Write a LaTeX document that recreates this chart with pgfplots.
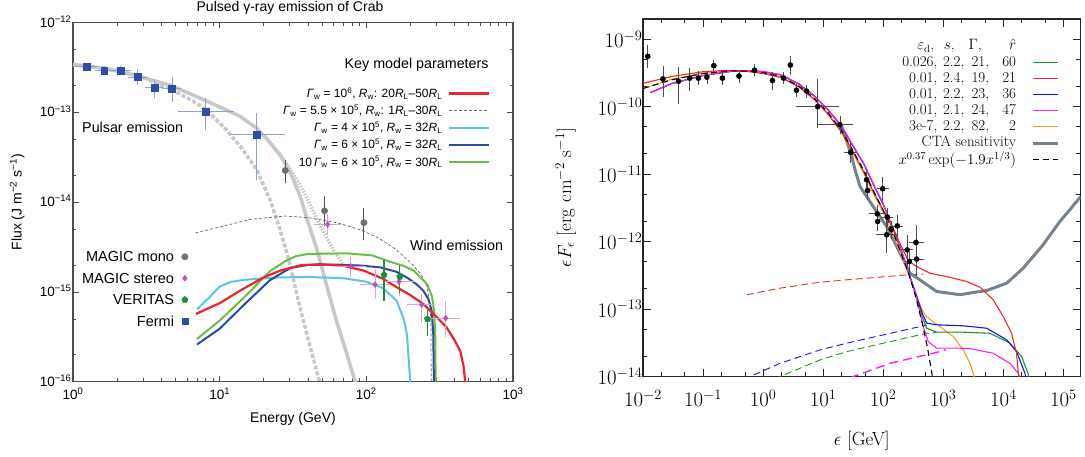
\RequirePackage{fix-cm}
\documentclass[border=0pt]{standalone}
\usepackage{amsmath}
\usepackage{fontspec}
\usepackage{pgfplots}
\pgfplotsset{compat=1.18}
\newfontfamily\hel{Liberation Sans}
\definecolor{lred}{HTML}{E8262B}
\definecolor{lblue}{HTML}{2B4BA0}
\definecolor{lgreen}{HTML}{6BBE45}
\definecolor{lcyan}{HTML}{5CC6E0}
\definecolor{pgray}{HTML}{C8C8C8}
\definecolor{fermib}{HTML}{2E4DA7}
\definecolor{fermie}{HTML}{8EA1D5}
\definecolor{monog}{HTML}{707070}
\definecolor{monoe}{HTML}{555555}
\definecolor{stereo}{HTML}{C44DB0}
\definecolor{stereoe}{HTML}{DDA2D6}
\definecolor{veritas}{HTML}{1E8C3A}
\definecolor{rgreen}{HTML}{1A961A}
\definecolor{rred}{HTML}{F02828}
\definecolor{rblue}{HTML}{1414F0}
\definecolor{rmag}{HTML}{FF1EF0}
\definecolor{rorange}{HTML}{F5A023}
\definecolor{cta}{HTML}{76838F}
\newcommand{\lr}[4]{\makebox[2.6em][r]{#1}\makebox[1.8em][r]{#2}\makebox[1.65em][r]{#3}\makebox[1.8em][r]{#4}}
\begin{document}
\begin{tikzpicture}
\useasboundingbox (0pt,0pt) rectangle (1085pt,457pt);
% ---------------- LEFT PANEL: curves -----------------
\begin{axis}[
  at={(73pt,75.2pt)}, anchor=south west, scale only axis,
  width=440pt, height=359.4pt,
  xmode=log, ymode=log, xmin=1, xmax=1000, ymin=1e-16, ymax=1e-12,
  xtick={1,10,100,1000},
  xticklabels={10\textsuperscript{0},10\textsuperscript{1},10\textsuperscript{2},10\textsuperscript{3}},
  ytick={1e-16,1e-15,1e-14,1e-13,1e-12},
  yticklabels={10\textsuperscript{−16},10\textsuperscript{−15},10\textsuperscript{−14},10\textsuperscript{−13},10\textsuperscript{−12}},
  minor xtick={2,3,4,5,6,7,8,9,20,30,40,50,60,70,80,90,200,300,400,500,600,700,800,900},
  minor ytick={2e-16,5e-16,2e-15,5e-15,2e-14,5e-14,2e-13,5e-13},
  tick align=inside, major tick length=6pt, minor tick length=3.5pt,
  tick style={black!70, line width=0.8pt},
  axis line style={black!70, line width=1.1pt},
  tick label style={font=\hel\fontsize{13.5}{16}\selectfont},
  yticklabel style={xshift=2pt, yshift=1pt},
  xticklabel style={yshift=-2.5pt},
  xlabel={Energy (GeV)},
  ylabel={Flux (J m\textsuperscript{−2} s\textsuperscript{−1})},
  label style={font=\hel\fontsize{14}{16}\selectfont},
  xlabel style={at={(axis description cs:0.5,-0.1035)}, anchor=center},
  ylabel style={at={(axis description cs:-0.1268,0.5)}, anchor=center},
  legend style={at={(axis description cs:0.9493,0.8267)}, anchor=north east, draw=none, fill=none,
    inner sep=0pt, column sep=6pt, row sep=0pt, font=\hel\fontsize{12}{14}\selectfont,
    nodes={inner sep=0pt, text height=12.5pt, text depth=4.7pt}},
  legend cell align=right, legend plot pos=right,
  legend image code/.code={\draw[#1] (0pt,0pt) -- (40pt,0pt);},
]
% pulsar model curves
\addplot[forget plot, pgray, line width=3.5pt, dash pattern=on 4pt off 2pt] coordinates {
(1,3.4e-13) (2,2.95e-13) (3,2.45e-13) (4.5,1.85e-13) (6.5,1.35e-13) (8.15,1.06e-13) (11,6.5e-14)
(13.8,4.2e-14) (17.9,2.3e-14) (22.1,1.05e-14) (24.6,6.3e-15) (29,2.6e-15) (34.8,7.4e-16)
(41,2.6e-16) (48,1e-16) (50,8e-17)};
\addplot[forget plot, pgray, line width=3.5pt, dash pattern=on 1.5pt off 1.5pt] coordinates {
(20,5.6e-14) (25.9,3.4e-14) (30,2.4e-14) (35,1.6e-14) (40,1.05e-14) (46,6.5e-15) (53,4.2e-15)
(60,2.9e-15) (68,2.1e-15) (72,1.9e-15)};
\addplot[forget plot, pgray, line width=3.5pt] coordinates {
(1,3.4e-13) (1.58,3.12e-13) (2.72,2.55e-13) (4.68,1.98e-13) (8,1.35e-13) (13.8,9.0e-14)
(18,6.6e-14) (22,4.6e-14) (25.9,3.3e-14) (30.5,2.1e-14) (35.5,1.15e-14) (39.4,6.5e-15)
(46,3.0e-15) (53.9,1.15e-15) (62,5.0e-16) (72,2.3e-16) (84,1e-16) (90,7e-17)};
% wind model curves
\addplot[forget plot, black!60, line width=0.7pt, dash pattern=on 3pt off 2pt] coordinates {
(6.85,4.56e-15) (10.6,5.4e-15) (16.3,6.45e-15) (28,7.0e-15) (40.9,6.7e-15) (63,5.9e-15)
(92,4.9e-15) (121,4.0e-15) (158,3.0e-15) (208,2.0e-15) (240,1.5e-15) (259,1.15e-15)
(272,7e-16) (276,4e-16) (277,1e-16) (277.5,8e-17)};
\addplot[forget plot, lcyan, line width=2pt] coordinates {
(7.0,6.4e-16) (8.5,8.7e-16) (10,1.15e-15) (12,1.3e-15) (15,1.37e-15) (25,1.45e-15) (40,1.47e-15)
(70,1.42e-15) (100,1.3e-15) (130,1.1e-15) (161,8e-16) (180,5e-16) (189,3.4e-16) (196,1.5e-16)
(199,1e-16) (200,8e-17)};
\addplot[forget plot, lgreen, line width=2pt] coordinates {
(7.0,3.0e-16) (10,4.8e-16) (15,9e-16) (22,1.7e-15) (28,2.2e-15) (33,2.5e-15) (40,2.65e-15)
(74,2.69e-15) (110,2.55e-15) (145,2.17e-15) (180,1.95e-15) (210,1.73e-15) (259,1.23e-15)
(280,9e-16) (290,6e-16) (295,3.4e-16) (297,1e-16) (298,8e-17)};
\addplot[forget plot, lblue, line width=2pt] coordinates {
(7.0,2.6e-16) (10,3.9e-16) (15.3,7.7e-16) (22,1.35e-15) (30.3,1.85e-15) (40,2.0e-15) (60,2.02e-15)
(90,1.97e-15) (124,1.88e-15) (160,1.68e-15) (189,1.45e-15) (220,1.22e-15) (245,1.03e-15)
(265,8.3e-16) (279,6.2e-16) (286,3.4e-16) (289,1e-16) (290,8e-17)};
\addplot[forget plot, lred, line width=2.2pt] coordinates {
(6.9,5.7e-16) (10,7.5e-16) (14,1.05e-15) (19.9,1.45e-15) (25.9,1.73e-15) (35.5,1.98e-15)
(48.5,2.04e-15) (70,1.95e-15) (95.7,1.73e-15) (130,1.4e-15) (161,1.13e-15) (200,9.2e-16)
(245,7.35e-16) (300,5.3e-16) (352,4.04e-16) (400,2.9e-16) (437,2.2e-16) (460,1.5e-16)
(472,1e-16) (478,8e-17)};
\addlegendimage{lred, line width=2.2pt}
\addlegendentry{\textit{Γ}\textsubscript{w} = 10\textsuperscript{6}, \textit{R}\textsubscript{w}: 20\textit{R}\textsubscript{L}–50\textit{R}\textsubscript{L}}
\addlegendimage{black!60, line width=0.7pt, dash pattern=on 3pt off 2pt}
\addlegendentry{\textit{Γ}\textsubscript{w} = 5.5 × 10\textsuperscript{5}, \textit{R}\textsubscript{w}: 1\textit{R}\textsubscript{L}–30\textit{R}\textsubscript{L}}
\addlegendimage{lcyan, line width=2pt}
\addlegendentry{\textit{Γ}\textsubscript{w} = 4 × 10\textsuperscript{5}, \textit{R}\textsubscript{w} = 32\textit{R}\textsubscript{L}}
\addlegendimage{lblue, line width=2pt}
\addlegendentry{\textit{Γ}\textsubscript{w} = 6 × 10\textsuperscript{5}, \textit{R}\textsubscript{w} = 32\textit{R}\textsubscript{L}}
\addlegendimage{lgreen, line width=2pt}
\addlegendentry{10\,\textit{Γ}\textsubscript{w} = 6 × 10\textsuperscript{5}, \textit{R}\textsubscript{w} = 30\textit{R}\textsubscript{L}}
\node[font=\hel\fontsize{14.3}{16}\selectfont, anchor=center] at (axis description cs:0.781,0.883) {Key model parameters};
\node[font=\hel\fontsize{14.3}{16}\selectfont, anchor=west, inner sep=0pt] at (axis description cs:0.0205,0.7078) {Pulsar emission};
\node[font=\hel\fontsize{14.3}{16}\selectfont, anchor=west, inner sep=0pt] at (axis description cs:0.7655,0.3784) {Wind emission};
\end{axis}
\node[font=\hel\fontsize{14}{16}\selectfont, anchor=center, inner sep=0pt] at (290pt,449pt) {Pulsed γ-ray emission of Crab};
% ---------------- LEFT PANEL: data -----------------
\begin{axis}[
  at={(73pt,75.2pt)}, anchor=south west, scale only axis,
  width=440pt, height=359.4pt, hide axis,
  xmode=log, ymode=log, xmin=1, xmax=1000, ymin=1e-16, ymax=1e-12,
  legend style={at={(axis description cs:0.262,0.3784)}, anchor=north east, draw=none, fill=none,
    inner sep=0pt, column sep=7.7pt, row sep=0pt, font=\hel\fontsize{14.5}{16}\selectfont,
    nodes={inner sep=0pt, text height=15.5pt, text depth=6pt}},
  legend cell align=right, legend plot pos=right,
  legend image code/.code={\draw[#1] plot coordinates {(0pt,0pt)};},
]
\addlegendimage{only marks, mark=*, mark size=3.2pt, monog}
\addlegendentry{MAGIC mono}
\addlegendimage{only marks, mark=diamond*, mark size=3pt, stereo}
\addlegendentry{MAGIC stereo}
\addlegendimage{only marks, mark=pentagon*, mark size=3.3pt, veritas}
\addlegendentry{VERITAS}
\addlegendimage{only marks, mark=square*, mark size=3.1pt, fermib}
\addlegendentry{Fermi}
% Fermi
\addplot[forget plot, only marks, mark=square*, mark size=3.3pt, fermib,
  error bars/.cd, x dir=both, x explicit, y dir=both, y explicit,
  error bar style={fermie, line width=0.8pt}, error mark options={fermie, mark size=2.5pt, line width=0.8pt}]
coordinates {
(1.24,3.2e-13) += (0.18,0.15e-13) -= (0.16,0.15e-13)
(1.63,2.9e-13) += (0.18,0.15e-13) -= (0.17,0.15e-13)
(2.11,2.9e-13) += (0.27,0.15e-13) -= (0.2,0.15e-13)
(2.77,2.47e-13) += (0.35,0.34e-13) -= (0.29,0.32e-13)
(3.61,1.89e-13) += (0.41,0.31e-13) -= (0.38,0.36e-13)
(4.73,1.83e-13) += (0.54,0.46e-13) -= (0.53,0.43e-13)
(8.05,1.02e-13) += (3.91,0.34e-13) -= (2.63,0.336e-13)
(17.9,5.66e-14) += (8.9,3.64e-14) -= (5.7,3.8e-14)
};
% MAGIC mono
\addplot[forget plot, only marks, mark=*, mark size=3.2pt, monog,
  error bars/.cd, y dir=both, y explicit,
  error bar style={monoe, line width=1pt}, error mark options={monoe, mark size=2.8pt, line width=1pt}]
coordinates {
(28.0,2.25e-14) += (0,0.47e-14) -= (0,0.51e-14)
(51.9,8.0e-15) += (0,3.0e-15) -= (0,2.2e-15)
(96.3,5.9e-15) += (0,2.2e-15) -= (0,1.8e-15)
};
% MAGIC stereo
\addplot[forget plot, only marks, mark=diamond*, mark size=3pt, stereo,
  error bars/.cd, x dir=both, x explicit, y dir=both, y explicit,
  error bar style={stereoe, line width=0.8pt}, error mark options={stereoe, mark size=2.5pt, line width=0.8pt}]
coordinates {
(54.5,5.66e-15) += (10.3,1.24e-15) -= (8.9,1.06e-15)
(78.4,1.92e-15) += (17.9,0.36e-15) -= (13.6,0.37e-15)
(114.5,1.21e-15) += (23.5,0.47e-15) -= (19.8,0.33e-15)
(167,1.30e-15) += (35,0.31e-15) -= (29,0.34e-15)
(238,7.25e-16) += (46,1.55e-16) -= (41,2.47e-16)
(348,5.12e-16) += (68,2.38e-16) -= (60,1.73e-16)
};
% VERITAS
\addplot[forget plot, only marks, mark=pentagon*, mark size=3.3pt, veritas,
  error bars/.cd, y dir=both, y explicit,
  error bar style={veritas, line width=1.1pt}, error mark options={veritas, mark size=2.8pt, line width=1.1pt}]
coordinates {
(132,1.55e-15) += (0,0.58e-15) -= (0,0.687e-15)
(169,1.48e-15) += (0,0.36e-15) -= (0,0.44e-15)
(261,4.99e-16) += (0,1.31e-16) -= (0,1.47e-16)
};
\end{axis}
% ---------------- RIGHT PANEL -----------------
\begin{axis}[
  at={(643pt,80.5pt)}, anchor=south west, scale only axis,
  width=437.5pt, height=357.6pt,
  xmode=log, ymode=log, xmin=1e-2, xmax=1.93e5, ymin=1e-14, ymax=2e-9,
  xtick={1e-2,1e-1,1,10,100,1000,1e4,1e5},
  ytick={1e-14,1e-13,1e-12,1e-11,1e-10,1e-9},
  minor xtick={0.02,0.05,0.2,0.5,2,5,20,50,200,500,2000,5000,2e4,5e4},
  minor ytick={2e-14,5e-14,2e-13,5e-13,2e-12,5e-12,2e-11,5e-11,2e-10,5e-10},
  tick align=inside, major tick length=8pt, minor tick length=4.5pt,
  tick style={black!85, line width=1pt},
  axis line style={black!85, line width=1.5pt},
  tick label style={font=\fontsize{20.74}{24}\selectfont},
  xticklabel style={yshift=-10pt}, yticklabel style={xshift=3pt},
  xlabel={$\epsilon$ [GeV]},
  ylabel={$\epsilon F_\epsilon$ [erg cm$^{-2}$ s$^{-1}$]},
  label style={font=\fontsize{19}{22}\selectfont},
  xlabel style={at={(axis description cs:0.5,-0.1787)}, anchor=center},
  ylabel style={at={(axis description cs:-0.1767,0.5)}, anchor=center},
  legend style={at={(axis description cs:0.9531,0.946)}, anchor=north east, draw=none, fill=none,
    inner sep=0pt, column sep=15.7pt, row sep=0pt, font=\fontsize{15}{17}\selectfont,
    nodes={inner sep=0pt, text height=11.5pt, text depth=4.6pt}},
  legend cell align=right, legend plot pos=right,
  legend image code/.code={\draw[#1] (0pt,0pt) -- (25pt,0pt);},
]
\addlegendimage{empty legend}
\addlegendentry{\makebox[2.6em][r]{$\varepsilon_{\rm d}$,}\makebox[1.35em][r]{$s$,}\makebox[1.8em][r]{$\Gamma$,}\makebox[2.3em][r]{$\hat r$}}
\addlegendimage{rgreen, line width=1pt}
\addlegendentry{\lr{0.026,}{2.2,}{21,}{60}}
\addlegendimage{rred, line width=1pt}
\addlegendentry{\lr{0.01,}{2.4,}{19,}{21}}
\addlegendimage{rblue, line width=1pt}
\addlegendentry{\lr{0.01,}{2.2,}{23,}{36}}
\addlegendimage{rmag, line width=1pt}
\addlegendentry{\lr{0.01,}{2.1,}{24,}{47}}
\addlegendimage{rorange, line width=1pt}
\addlegendentry{\lr{3e-7,}{2.2,}{82,}{2}}
\addlegendimage{cta, line width=3pt}
\addlegendentry{CTA sensitivity}
\addlegendimage{black, line width=1pt, dash pattern=on 6pt off 4pt}
\addlegendentry{\raisebox{-2pt}{$x^{0.37}\exp(-1.9x^{1/3})$}}
% wind components (dashed)
\addplot[forget plot, rred, line width=0.9pt, dash pattern=on 7pt off 4pt] coordinates {
(0.536,1.63e-13) (1.92,2.04e-13) (8.87,2.5e-13) (24.7,2.71e-13) (246,3.21e-13) (466,3.3e-13)};
\addplot[forget plot, rblue, line width=0.9pt, dash pattern=on 7pt off 4pt] coordinates {
(0.5,8.5e-15) (0.608,1e-14) (1.92,1.57e-14) (8.87,2.48e-14) (24.7,3.12e-14) (409,5.5e-14) (530,5.8e-14)};
\addplot[forget plot, rgreen, line width=0.9pt, dash pattern=on 7pt off 4pt] coordinates {
(1.6,9e-15) (1.92,1e-14) (8.87,1.76e-14) (24.7,2.34e-14) (530,4.38e-14) (776,4.5e-14)};
\addplot[forget plot, rmag, line width=1.4pt, dash pattern=on 9pt off 5pt] coordinates {
(28,9.5e-15) (31.9,1e-14) (130,1.57e-14) (881,2.34e-14) (1100,2.5e-14)};
% CTA sensitivity
\addplot[forget plot, cta, line width=3pt] coordinates {
(20.4,5.1e-11) (29.9,1.83e-11) (34,1.16e-11) (41.1,6.56e-12) (60.3,3.9e-12) (114,1.67e-12)
(168,8.45e-13) (279,3.4e-13) (409,2.71e-13) (776,1.82e-13) (1900,1.63e-13) (3160,1.76e-13)
(5280,1.88e-13) (11400,2.42e-13) (21500,4.05e-13) (46100,8.97e-13) (87500,1.99e-12)
(128000,2.96e-12) (193000,4.62e-12)};
% model curves
\addplot[forget plot, rorange, line width=1.1pt] coordinates {
(0.01,1.86e-10) (0.03,2.55e-10) (0.1,3.15e-10) (0.3,3.4e-10) (0.6,3.35e-10) (1,3.15e-10)
(2,2.75e-10) (4,1.95e-10) (7,1.3e-10) (12,7.8e-11) (20,4.2e-11) (30,2.2e-11) (47,1.05e-11)
(70,5e-12) (100,2.7e-12) (150,1.2e-12) (200,6.2e-13) (262,3.4e-13) (350,1.6e-13) (450,9.5e-14)
(530,7.74e-14) (700,6.3e-14) (881,5.5e-14) (1470,3.9e-14) (2155,2.48e-14) (2780,1.57e-14)
(3280,1e-14) (3400,9e-15)};
\addplot[forget plot, rgreen, line width=1.1pt] coordinates {
(0.0132,1.61e-10) (0.03,2.2e-10) (0.1,2.9e-10) (0.3,3.35e-10) (0.6,3.4e-10) (1,3.3e-10)
(2,2.95e-10) (4,2.15e-10) (7,1.45e-10) (12,9.0e-11) (20,5.2e-11) (30,2.8e-11) (47,1.45e-11)
(70,6.8e-12) (100,3.6e-12) (150,1.45e-12) (200,7.3e-13) (262,3.5e-13) (350,1.6e-13)
(450,7.5e-14) (530,5.2e-14) (776,4.54e-14) (2155,4.54e-14) (5980,4.38e-14) (12900,3.12e-14)
(20200,1.97e-14) (26000,1.09e-14) (26500,1e-14) (27000,9e-15)};
\addplot[forget plot, rblue, line width=1.1pt] coordinates {
(0.0132,1.61e-10) (0.03,2.2e-10) (0.1,2.9e-10) (0.3,3.35e-10) (0.6,3.4e-10) (1,3.3e-10)
(2,2.95e-10) (4,2.15e-10) (7,1.45e-10) (12,9.0e-11) (20,5.2e-11) (30,2.8e-11) (47,1.45e-11)
(70,6.8e-12) (100,3.6e-12) (150,1.45e-12) (200,7.5e-13) (262,3.6e-13) (350,1.7e-13)
(450,8.5e-14) (530,6.18e-14) (776,5.83e-14) (2155,5.64e-14) (5280,5.2e-14) (11400,3.49e-14)
(16600,2.34e-14) (22900,1.12e-14) (23500,1e-14) (24000,9e-15)};
\addplot[forget plot, rmag, line width=1.1pt] coordinates {
(0.0132,1.61e-10) (0.03,2.2e-10) (0.1,2.9e-10) (0.3,3.35e-10) (0.6,3.42e-10) (1,3.32e-10)
(2,2.97e-10) (4,2.17e-10) (7,1.47e-10) (12,9.1e-11) (20,5.3e-11) (30,2.85e-11) (47,1.47e-11)
(70,6.9e-12) (100,3.6e-12) (150,1.45e-12) (200,7.3e-13) (262,3.6e-13) (350,1.6e-13)
(466,5.5e-14) (564,3.3e-14) (776,2.63e-14) (1900,2.63e-14) (2780,2.6e-14) (6790,2.21e-14)
(12900,1.57e-14) (17700,1.12e-14) (18500,1e-14) (19000,9e-15)};
\addplot[forget plot, rred, line width=1.1pt] coordinates {
(0.01,2.22e-10) (0.03,2.8e-10) (0.1,3.3e-10) (0.25,3.45e-10) (0.5,3.35e-10) (1,3.1e-10)
(2,2.7e-10) (4,1.95e-10) (7,1.3e-10) (12,7.8e-11) (20,4.3e-11) (30,2.3e-11) (47,1.1e-11)
(70,5.3e-12) (100,2.9e-12) (150,1.5e-12) (200,8.5e-13) (262,5.2e-13) (361,4.27e-13)
(600,3.4e-13) (1140,3.03e-13) (2455,2.56e-13) (4085,2.11e-13) (6800,1.37e-13) (9970,7.74e-14)
(13700,4.38e-14) (16600,2.21e-14) (17900,1.06e-14) (18300,1e-14) (18500,9e-15)};
\addplot[forget plot, black, line width=1.1pt, dash pattern=on 6pt off 4pt] coordinates {
(0.01,1.86e-10) (0.03,2.5e-10) (0.1,3.1e-10) (0.3,3.4e-10) (0.6,3.35e-10) (1,3.2e-10)
(2,2.8e-10) (4,2.0e-10) (7,1.35e-10) (12,8.2e-11) (20,4.5e-11) (30,2.4e-11) (47,1.15e-11)
(70,5.5e-12) (100,2.9e-12) (150,1.3e-12) (200,6.5e-13) (262,3.5e-13) (350,1.5e-13)
(450,6e-14) (550,2.6e-14) (640,1.18e-14) (660,1e-14) (670,9e-15)};
% data: y errors only
\addplot[forget plot, only marks, mark=*, mark size=2.6pt, black,
  error bars/.cd, y dir=both, y explicit,
  error bar style={black!70, line width=0.7pt}, error mark options={black!70, mark size=3pt, line width=0.7pt}]
coordinates {
(0.012,5.56e-10) += (0,1.89e-10) -= (0,1.42e-10)
(0.0215,2.58e-10) += (0,1.09e-10) -= (0,1.06e-10)
(0.039,2.38e-10) += (0,1.09e-10) -= (0,1.18e-10)
(0.060,2.65e-10) += (0,0.7e-10) -= (0,0.79e-10)
(0.0835,2.65e-10) += (0,0.35e-10) -= (0,0.35e-10)
(0.116,2.74e-10) += (0,0.3e-10) -= (0,0.3e-10)
(0.151,4.05e-10) += (0,0.4e-10) -= (0,0.4e-10)
(0.21,2.65e-10) += (0,0.35e-10) -= (0,0.35e-10)
(0.397,2.84e-10) += (0,0.35e-10) -= (0,0.35e-10)
(0.72,3.47e-10) += (0,0.35e-10) -= (0,0.35e-10)
(1.43,2.44e-10) += (0,0.5e-10) -= (0,0.5e-10)
(2.2,2.65e-10) += (0,0.25e-10) -= (0,0.25e-10)
(2.84,4.14e-10) += (0,0.96e-10) -= (0,0.87e-10)
(3.6,1.75e-10) += (0,0.2e-10) -= (0,0.2e-10)
(5.3,1.7e-10) += (0,0.2e-10) -= (0,0.2e-10)
(53,8.26e-12) += (0,1.5e-12) -= (0,1.5e-12)
(55.2,5.73e-12) += (0,1.2e-12) -= (0,1.2e-12)
(80.9,1.99e-12) += (0,0.4e-12) -= (0,0.4e-12)
(136,1.53e-12) += (0,0.3e-12) -= (0,0.3e-12)
(272,5.07e-13) += (0,1.2e-13) -= (0,1.2e-13)
};
% data: x and y errors
\addplot[forget plot, only marks, mark=*, mark size=2.6pt, black,
  error bars/.cd, x dir=both, x explicit, y dir=both, y explicit,
  error bar style={black!70, line width=0.7pt}, error mark options={black!70, mark size=3pt, line width=0.7pt}]
coordinates {
(8.1,1.0e-10) += (8.3,1.3e-10) -= (4.1,4.7e-11)
(19,5.4e-11) += (9,1.1e-11) -= (10,1.1e-11)
(28.8,2.1e-11) += (4,0.63e-11) -= (4,0.46e-11)
(98,6.07e-12) += (12,2.2e-12) -= (10,1.65e-12)
(79.8,2.58e-12) += (20,0.56e-12) -= (15.4,0.48e-12)
(117,2.31e-12) += (15,0.5e-12) -= (13,0.5e-12)
(172,1.71e-12) += (20,0.55e-12) -= (18,0.5e-12)
(114,1.26e-12) += (43,0.73e-12) -= (28,0.5e-12)
(252,7.55e-13) += (25,3.7e-13) -= (22,2.75e-13)
(351,9.7e-13) += (70,6.1e-13) -= (53,4.0e-13)
(361,5.5e-13) += (60,2.05e-13) -= (63,2.1e-13)
};
\end{axis}
\end{tikzpicture}
\end{document}
